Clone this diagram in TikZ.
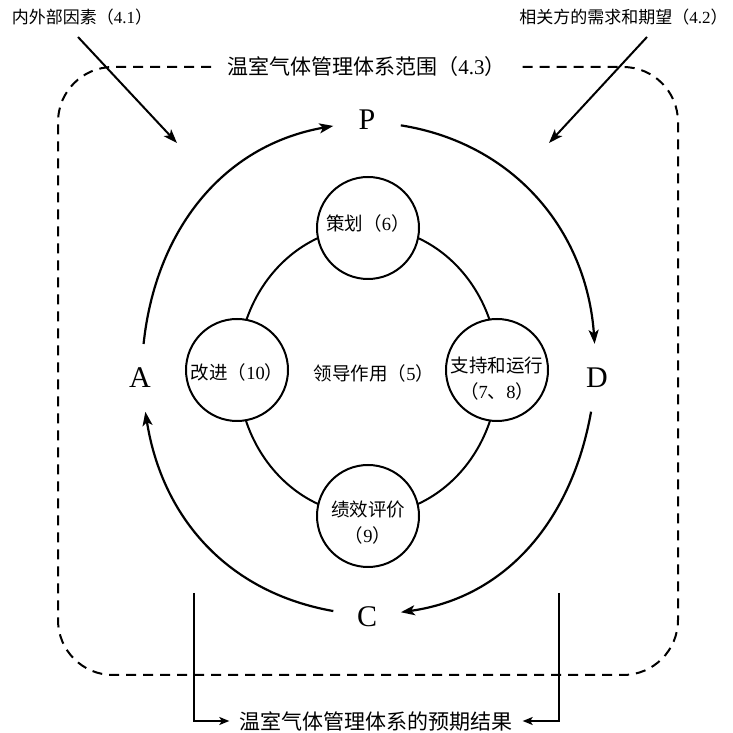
\documentclass[tikz,border=0pt]{standalone}
\usepackage{fontspec}
\setmainfont{Liberation Serif}
\newfontfamily\cjk{Noto Sans CJK SC}
\usetikzlibrary{arrows.meta}
\newcommand\zh[1]{{\cjk #1}}
\begin{document}
\begin{tikzpicture}[x=1pt,y=1pt,
  letter/.style={circle, minimum size=68pt, inner sep=0pt, font=\fontsize{30}{32}\selectfont},
  stage/.style={circle, draw, line width=2pt, fill=white, minimum size=102pt, inner sep=0pt},
  txt/.style={inner sep=0pt, align=center, font=\fontsize{18.5}{26}\selectfont},
  lbl/.style={inner sep=0pt, font=\fontsize{17}{20}\selectfont},
  big/.style={inner ysep=0pt, inner xsep=10pt, font=\fontsize{21}{24}\selectfont},
  cyc/.style={line width=2.2pt, -{Stealth[length=14pt,width=10pt,inset=3.5pt]}},
  inarrow/.style={line width=2pt, -{Stealth[length=14pt,width=10pt,inset=3.5pt]}},
  outarrow/.style={line width=1.6pt, -{Stealth[length=10pt,width=8pt,inset=2.5pt]}},
  frame/.style={line width=2pt, dash pattern=on 10pt off 7pt, rounded corners=55pt}
]
\useasboundingbox (0,0) rectangle (732,733);

% top labels and input arrows
\node[lbl] (ext) at (82,716) {\zh{内外部因素（}4.1\zh{）}};
\node[lbl] (int) at (623.5,716) {\zh{相关方的需求和期望（}4.2\zh{）}};
\coordinate (e1) at (78,696);
\coordinate (e2) at (177,590);
\coordinate (i1) at (647,696);
\coordinate (i2) at (549,590);

% scope frame
\node[big, inner xsep=16pt] (scope) at (366.5,666) {\zh{温室气体管理体系范围（}4.3\zh{）}};
\draw[frame] (scope.west) -- (58,666) -- (58,58) -- (678,58) -- (678,666) -- (scope.east);

\draw[inarrow] (e1) -- (e2);
\draw[inarrow] (i1) -- (i2);

% PDCA letters
\node[letter] (P) at (367,613) {P};
\node[letter] (A) at (140,355) {A};
\node[letter] (D) at (597,355) {D};
\node[letter] (C) at (367,116) {C};

\draw[cyc] (A) to[out=84,in=190] (P);
\draw[cyc] (P) to[out=-9,in=94] (D);
\draw[cyc] (D) to[out=-100,in=8] (C);
\draw[cyc] (C) to[out=170,in=-81] (A);

% inner cycle
\coordinate (O) at (368,362);
\draw[line width=2pt] (O) ellipse [x radius=130, y radius=144];
\node[txt] (lead) at (374,360) {\zh{领导作用（}5\zh{）}};

\node[stage] (plan) at (368,505) {};
\node[txt] at ([yshift=5pt]plan.center) {\zh{策划（}6\zh{）}};
\node[stage] (sup) at (497,363) {};
\node[txt] at ([yshift=-9pt]sup.center) {\zh{支持和运行}\\\zh{（}7\zh{、}8\zh{）}};
\node[stage] (imp) at (237,363) {};
\node[txt] at ([yshift=-2pt]imp.center) {\zh{改进（}10\zh{）}};
\node[stage] (chk) at (368,217) {};
\node[txt] at ([yshift=-7pt]chk.center) {\zh{绩效评价}\\\zh{（}9\zh{）}};

% outcomes
\node[big] (res) at (376,12) {\zh{温室气体管理体系的预期结果}};
\coordinate (bl) at (194,140);
\coordinate (br) at (559,140);
\draw[outarrow] (bl) |- (res.west);
\draw[outarrow] (br) |- (res.east);
\end{tikzpicture}
\end{document}
